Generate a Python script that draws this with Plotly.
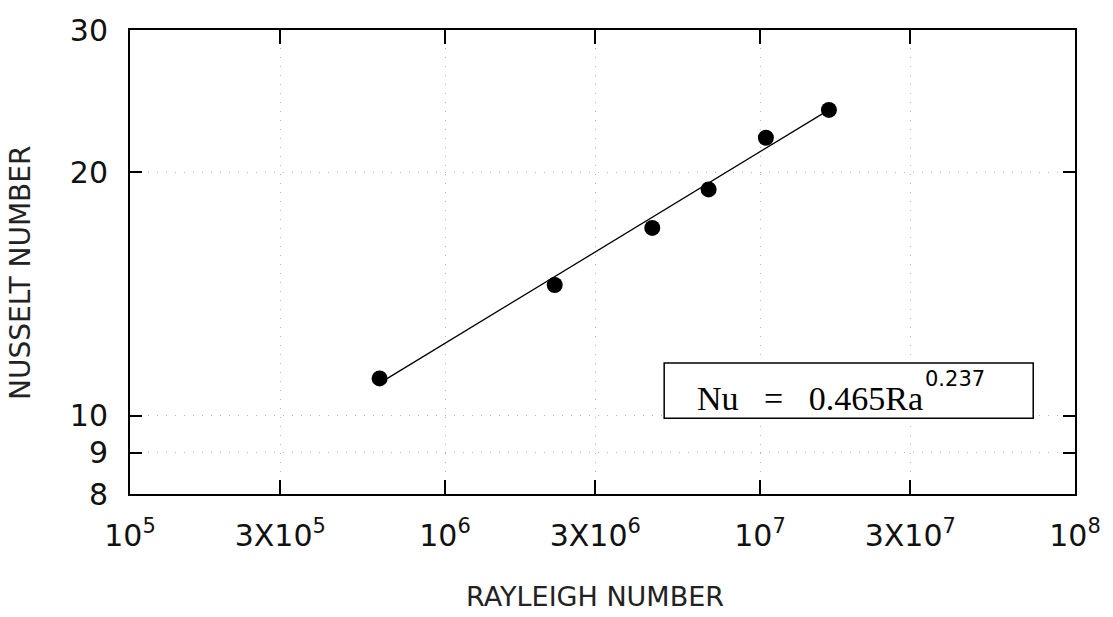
import plotly.graph_objects as go
import numpy as np

# Data
rayleigh = [6.2e5, 2.23e6, 4.55e6, 6.87e6, 1.044e7, 1.655e7]
nusselt = [11.12, 14.51, 17.07, 19.05, 22.07, 23.89]

# Fit shown in the chart: Nu = 0.465 Ra^0.237
fit_coef = 0.465
fit_exp = 0.237

x_tickvals = [1e5, 3e5, 1e6, 3e6, 1e7, 3e7, 1e8]
x_ticktext = ["10<sup>5</sup>", "3X10<sup>5</sup>", "10<sup>6</sup>", "3X10<sup>6</sup>",
              "10<sup>7</sup>", "3X10<sup>7</sup>", "10<sup>8</sup>"]
y_tickvals = [8, 9, 10, 20, 30]
y_ticktext = ["8", "9", "10", "20", "30"]

fit_x = np.array([rayleigh[0], rayleigh[-1]])
fit_y = fit_coef * fit_x ** fit_exp

fig = go.Figure()
fig.add_trace(go.Scatter(x=fit_x, y=fit_y, mode="lines",
                         line=dict(color="black", width=1.3), showlegend=False,
                         hoverinfo="skip"))
fig.add_trace(go.Scatter(x=rayleigh, y=nusselt, mode="markers",
                         marker=dict(color="black", size=16), showlegend=False))

tickfont = dict(family="DejaVu Sans ExtraLight, DejaVu Sans", size=30, color="#111")

fig.update_layout(
    width=1113, height=617,
    margin=dict(l=130, r=33, t=23, b=123),
    paper_bgcolor="white", plot_bgcolor="white",
    xaxis=dict(type="log", range=[5, 8], tickvals=x_tickvals, ticktext=x_ticktext,
               ticks="inside", ticklen=14, tickwidth=1.5, tickcolor="black",
               showline=True, linecolor="black", linewidth=2, mirror="ticks",
               showgrid=True, gridcolor="#b8b8b8", gridwidth=1, griddash="1px,8px",
               tickfont=tickfont, ticklabelstandoff=14, zeroline=False),
    yaxis=dict(type="log", range=[np.log10(8), np.log10(30)], tickvals=y_tickvals,
               ticktext=y_ticktext,
               ticks="inside", ticklen=12, tickwidth=1.5, tickcolor="black",
               showline=True, linecolor="black", linewidth=2, mirror="ticks",
               showgrid=True, gridcolor="#b8b8b8", gridwidth=1, griddash="1px,8px",
               tickfont=tickfont, ticklabelstandoff=14, zeroline=False),
    font=dict(family="DejaVu Sans", color="black"),
)

# Axis titles
fig.add_annotation(text="RAYLEIGH NUMBER", xref="paper", yref="paper",
                   x=(597 - 130) / 950, y=-(598 - 494) / 471,
                   xanchor="center", yanchor="middle", showarrow=False,
                   font=dict(family="DejaVu Sans ExtraLight, DejaVu Sans", size=27, color="#222"))
fig.add_annotation(text="NUSSELT NUMBER", xref="paper", yref="paper",
                   x=-(130 - 20) / 950, y=(494 - 270) / 471, textangle=-90,
                   xanchor="center", yanchor="middle", showarrow=False,
                   font=dict(family="DejaVu Sans ExtraLight, DejaVu Sans", size=28, color="#222"))

# Equation box
fig.add_shape(type="rect", xref="paper", yref="paper",
              x0=(667 - 130) / 950, x1=(1038 - 130) / 950,
              y0=(494 - 417) / 471, y1=(494 - 361) / 471,
              line=dict(color="black", width=1.5), fillcolor="white")
fig.add_annotation(text="Nu\u00a0\u00a0\u00a0=\u00a0\u00a0\u00a00.465Ra",
                   xref="paper", yref="paper",
                   x=(698 - 130) / 950, y=(494 - 397) / 471,
                   xanchor="left", yanchor="middle", showarrow=False,
                   font=dict(family="Liberation Serif", size=34, color="black"))
fig.add_annotation(text="0.237",
                   xref="paper", yref="paper",
                   x=(927 - 130) / 950, y=(494 - 377) / 471,
                   xanchor="left", yanchor="middle", showarrow=False,
                   font=dict(family="DejaVu Sans ExtraLight, DejaVu Sans", size=21, color="black"))

fig.write_html("out.html")
